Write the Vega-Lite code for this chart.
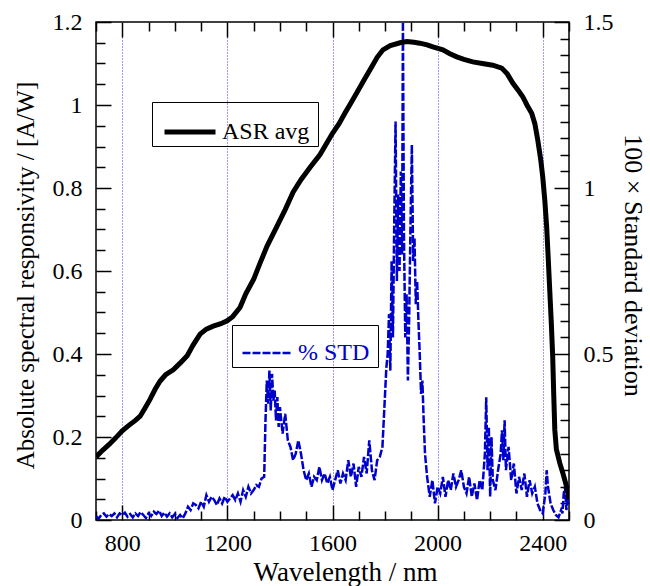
{
  "$schema": "https://vega.github.io/schema/vega-lite/v6.json",
  "width": 473,
  "height": 498,
  "autosize": {"type": "none"},
  "padding": {"left": 96, "top": 22, "right": 81, "bottom": 66},
  "background": "white",
  "config": {
    "font": "Liberation Serif",
    "view": {"stroke": "black", "strokeWidth": 1.5},
    "axis": {"labelFont": "Liberation Serif", "titleFont": "Liberation Serif", "titleFontWeight": "normal", "labelColor": "black", "titleColor": "black", "tickColor": "black", "labelOverlap": false, "domain": false}
  },
  "datasets": {
    "asr": [
      {"nm": 700, "asr": 0.152}, {"nm": 725, "asr": 0.168}, {"nm": 750, "asr": 0.182}, {"nm": 775, "asr": 0.198},
      {"nm": 800, "asr": 0.215}, {"nm": 825, "asr": 0.228}, {"nm": 850, "asr": 0.24}, {"nm": 868, "asr": 0.25},
      {"nm": 885, "asr": 0.268}, {"nm": 905, "asr": 0.29}, {"nm": 925, "asr": 0.315}, {"nm": 944, "asr": 0.335},
      {"nm": 965, "asr": 0.35}, {"nm": 994, "asr": 0.362}, {"nm": 1020, "asr": 0.378}, {"nm": 1047, "asr": 0.396},
      {"nm": 1070, "asr": 0.422}, {"nm": 1096, "asr": 0.448}, {"nm": 1120, "asr": 0.46}, {"nm": 1146, "asr": 0.467},
      {"nm": 1175, "asr": 0.473}, {"nm": 1199, "asr": 0.48}, {"nm": 1220, "asr": 0.49}, {"nm": 1248, "asr": 0.512},
      {"nm": 1270, "asr": 0.545}, {"nm": 1300, "asr": 0.58}, {"nm": 1325, "asr": 0.62}, {"nm": 1351, "asr": 0.66},
      {"nm": 1389, "asr": 0.708}, {"nm": 1420, "asr": 0.748}, {"nm": 1450, "asr": 0.79}, {"nm": 1480, "asr": 0.82},
      {"nm": 1515, "asr": 0.85}, {"nm": 1552, "asr": 0.88}, {"nm": 1575, "asr": 0.905}, {"nm": 1600, "asr": 0.932},
      {"nm": 1625, "asr": 0.955}, {"nm": 1647, "asr": 0.98}, {"nm": 1670, "asr": 1.005}, {"nm": 1693, "asr": 1.03},
      {"nm": 1720, "asr": 1.06}, {"nm": 1750, "asr": 1.093}, {"nm": 1770, "asr": 1.115}, {"nm": 1792, "asr": 1.133},
      {"nm": 1820, "asr": 1.143}, {"nm": 1857, "asr": 1.15}, {"nm": 1883, "asr": 1.153}, {"nm": 1910, "asr": 1.151},
      {"nm": 1932, "asr": 1.149}, {"nm": 1960, "asr": 1.145}, {"nm": 1982, "asr": 1.14}, {"nm": 2020, "asr": 1.133},
      {"nm": 2045, "asr": 1.124}, {"nm": 2073, "asr": 1.116}, {"nm": 2100, "asr": 1.11}, {"nm": 2134, "asr": 1.104},
      {"nm": 2170, "asr": 1.1}, {"nm": 2210, "asr": 1.096}, {"nm": 2244, "asr": 1.089}, {"nm": 2265, "asr": 1.075},
      {"nm": 2286, "asr": 1.053}, {"nm": 2305, "asr": 1.037}, {"nm": 2324, "asr": 1.02}, {"nm": 2340, "asr": 1.0},
      {"nm": 2358, "asr": 0.98}, {"nm": 2370, "asr": 0.955}, {"nm": 2381, "asr": 0.916}, {"nm": 2392, "asr": 0.87},
      {"nm": 2400, "asr": 0.827}, {"nm": 2408, "asr": 0.77}, {"nm": 2415, "asr": 0.706}, {"nm": 2421, "asr": 0.63},
      {"nm": 2427, "asr": 0.55}, {"nm": 2433, "asr": 0.47}, {"nm": 2438, "asr": 0.393}, {"nm": 2442, "asr": 0.3},
      {"nm": 2446, "asr": 0.217}, {"nm": 2452, "asr": 0.17}, {"nm": 2465, "asr": 0.137}, {"nm": 2478, "asr": 0.11},
      {"nm": 2491, "asr": 0.08}, {"nm": 2500, "asr": 0.05}
    ],
    "std": [
      {"nm": 700, "std": 0.012}, {"nm": 710, "std": 0.004}, {"nm": 720, "std": 0.015}, {"nm": 730, "std": 0.02},
      {"nm": 740, "std": 0.01}, {"nm": 750, "std": 0.018}, {"nm": 760, "std": 0.012}, {"nm": 770, "std": 0.02},
      {"nm": 780, "std": 0.008}, {"nm": 790, "std": 0.02}, {"nm": 800, "std": 0.015}, {"nm": 810, "std": 0.022},
      {"nm": 820, "std": 0.01}, {"nm": 830, "std": 0.018}, {"nm": 840, "std": 0.008}, {"nm": 850, "std": 0.02},
      {"nm": 860, "std": 0.012}, {"nm": 870, "std": 0.024}, {"nm": 880, "std": 0.015}, {"nm": 890, "std": 0.006},
      {"nm": 900, "std": 0.02}, {"nm": 910, "std": 0.012}, {"nm": 920, "std": 0.025}, {"nm": 930, "std": 0.018},
      {"nm": 940, "std": 0.028}, {"nm": 950, "std": 0.012}, {"nm": 960, "std": 0.022}, {"nm": 970, "std": 0.01},
      {"nm": 980, "std": 0.02}, {"nm": 990, "std": 0.008}, {"nm": 1000, "std": 0.018}, {"nm": 1010, "std": 0.006},
      {"nm": 1020, "std": 0.015}, {"nm": 1030, "std": 0.005}, {"nm": 1040, "std": 0.02}, {"nm": 1050, "std": 0.04},
      {"nm": 1060, "std": 0.03}, {"nm": 1070, "std": 0.05}, {"nm": 1080, "std": 0.045}, {"nm": 1090, "std": 0.035},
      {"nm": 1100, "std": 0.055}, {"nm": 1110, "std": 0.04}, {"nm": 1120, "std": 0.075}, {"nm": 1130, "std": 0.055},
      {"nm": 1140, "std": 0.07}, {"nm": 1150, "std": 0.06}, {"nm": 1160, "std": 0.045}, {"nm": 1170, "std": 0.065},
      {"nm": 1180, "std": 0.05}, {"nm": 1190, "std": 0.07}, {"nm": 1200, "std": 0.055}, {"nm": 1210, "std": 0.065},
      {"nm": 1220, "std": 0.075}, {"nm": 1230, "std": 0.06}, {"nm": 1240, "std": 0.08}, {"nm": 1250, "std": 0.055},
      {"nm": 1260, "std": 0.09}, {"nm": 1270, "std": 0.07}, {"nm": 1280, "std": 0.1}, {"nm": 1290, "std": 0.08},
      {"nm": 1300, "std": 0.09}, {"nm": 1310, "std": 0.105}, {"nm": 1320, "std": 0.1}, {"nm": 1330, "std": 0.125},
      {"nm": 1340, "std": 0.13}, {"nm": 1345, "std": 0.3}, {"nm": 1350, "std": 0.42}, {"nm": 1355, "std": 0.35},
      {"nm": 1360, "std": 0.45}, {"nm": 1365, "std": 0.33}, {"nm": 1370, "std": 0.44}, {"nm": 1375, "std": 0.36},
      {"nm": 1380, "std": 0.39}, {"nm": 1385, "std": 0.3}, {"nm": 1390, "std": 0.37}, {"nm": 1395, "std": 0.28},
      {"nm": 1400, "std": 0.34}, {"nm": 1410, "std": 0.26}, {"nm": 1420, "std": 0.32}, {"nm": 1430, "std": 0.24},
      {"nm": 1440, "std": 0.22}, {"nm": 1450, "std": 0.18}, {"nm": 1460, "std": 0.2}, {"nm": 1470, "std": 0.24},
      {"nm": 1480, "std": 0.2}, {"nm": 1490, "std": 0.15}, {"nm": 1500, "std": 0.12}, {"nm": 1510, "std": 0.14},
      {"nm": 1520, "std": 0.1}, {"nm": 1530, "std": 0.13}, {"nm": 1540, "std": 0.12}, {"nm": 1550, "std": 0.16},
      {"nm": 1560, "std": 0.12}, {"nm": 1570, "std": 0.14}, {"nm": 1580, "std": 0.11}, {"nm": 1590, "std": 0.13},
      {"nm": 1600, "std": 0.09}, {"nm": 1610, "std": 0.12}, {"nm": 1620, "std": 0.15}, {"nm": 1630, "std": 0.11},
      {"nm": 1640, "std": 0.14}, {"nm": 1650, "std": 0.12}, {"nm": 1660, "std": 0.18}, {"nm": 1670, "std": 0.13},
      {"nm": 1680, "std": 0.17}, {"nm": 1690, "std": 0.1}, {"nm": 1700, "std": 0.16}, {"nm": 1710, "std": 0.13},
      {"nm": 1720, "std": 0.19}, {"nm": 1730, "std": 0.14}, {"nm": 1740, "std": 0.24}, {"nm": 1750, "std": 0.15},
      {"nm": 1760, "std": 0.12}, {"nm": 1770, "std": 0.18}, {"nm": 1780, "std": 0.19}, {"nm": 1790, "std": 0.22},
      {"nm": 1795, "std": 0.3}, {"nm": 1800, "std": 0.38}, {"nm": 1805, "std": 0.46}, {"nm": 1810, "std": 0.5},
      {"nm": 1815, "std": 0.62}, {"nm": 1820, "std": 0.45}, {"nm": 1825, "std": 0.78}, {"nm": 1830, "std": 0.55},
      {"nm": 1835, "std": 0.9}, {"nm": 1840, "std": 1.2}, {"nm": 1845, "std": 0.72}, {"nm": 1850, "std": 0.98},
      {"nm": 1855, "std": 0.75}, {"nm": 1860, "std": 1.05}, {"nm": 1865, "std": 0.8}, {"nm": 1868, "std": 1.5},
      {"nm": 1872, "std": 0.85}, {"nm": 1877, "std": 0.55}, {"nm": 1882, "std": 0.68}, {"nm": 1887, "std": 0.42},
      {"nm": 1892, "std": 0.62}, {"nm": 1897, "std": 0.9}, {"nm": 1902, "std": 1.13}, {"nm": 1907, "std": 0.78},
      {"nm": 1912, "std": 0.85}, {"nm": 1917, "std": 0.65}, {"nm": 1922, "std": 0.72}, {"nm": 1927, "std": 0.6},
      {"nm": 1932, "std": 0.5}, {"nm": 1937, "std": 0.38}, {"nm": 1942, "std": 0.42}, {"nm": 1947, "std": 0.3},
      {"nm": 1952, "std": 0.2}, {"nm": 1960, "std": 0.13}, {"nm": 1970, "std": 0.07}, {"nm": 1980, "std": 0.12},
      {"nm": 1990, "std": 0.05}, {"nm": 2000, "std": 0.1}, {"nm": 2010, "std": 0.08}, {"nm": 2020, "std": 0.13},
      {"nm": 2030, "std": 0.07}, {"nm": 2040, "std": 0.12}, {"nm": 2050, "std": 0.09}, {"nm": 2060, "std": 0.14},
      {"nm": 2070, "std": 0.1}, {"nm": 2080, "std": 0.12}, {"nm": 2090, "std": 0.15}, {"nm": 2100, "std": 0.1},
      {"nm": 2110, "std": 0.08}, {"nm": 2120, "std": 0.13}, {"nm": 2130, "std": 0.07}, {"nm": 2140, "std": 0.11},
      {"nm": 2150, "std": 0.06}, {"nm": 2160, "std": 0.12}, {"nm": 2170, "std": 0.09}, {"nm": 2180, "std": 0.2},
      {"nm": 2185, "std": 0.37}, {"nm": 2190, "std": 0.15}, {"nm": 2195, "std": 0.28}, {"nm": 2200, "std": 0.07},
      {"nm": 2205, "std": 0.25}, {"nm": 2210, "std": 0.12}, {"nm": 2220, "std": 0.09}, {"nm": 2230, "std": 0.15},
      {"nm": 2240, "std": 0.2}, {"nm": 2245, "std": 0.27}, {"nm": 2250, "std": 0.18}, {"nm": 2255, "std": 0.3},
      {"nm": 2260, "std": 0.15}, {"nm": 2270, "std": 0.22}, {"nm": 2280, "std": 0.12}, {"nm": 2290, "std": 0.17},
      {"nm": 2300, "std": 0.08}, {"nm": 2310, "std": 0.13}, {"nm": 2320, "std": 0.09}, {"nm": 2330, "std": 0.14},
      {"nm": 2340, "std": 0.07}, {"nm": 2350, "std": 0.12}, {"nm": 2360, "std": 0.08}, {"nm": 2370, "std": 0.1},
      {"nm": 2380, "std": 0.05}, {"nm": 2390, "std": 0.03}, {"nm": 2400, "std": 0.02}, {"nm": 2410, "std": 0.08},
      {"nm": 2415, "std": 0.15}, {"nm": 2420, "std": 0.1}, {"nm": 2430, "std": 0.05}, {"nm": 2440, "std": 0.03},
      {"nm": 2450, "std": 0.015}, {"nm": 2460, "std": 0.008}, {"nm": 2470, "std": 0.03}, {"nm": 2475, "std": 0.02},
      {"nm": 2480, "std": 0.08}, {"nm": 2485, "std": 0.1}, {"nm": 2490, "std": 0.03}, {"nm": 2495, "std": 0.06},
      {"nm": 2500, "std": 0.05}
    ]
  },
  "layer": [
    {
      "data": {"name": "std"},
      "mark": {"type": "line", "color": "#0000cc", "strokeWidth": 2.5, "strokeDash": [8, 2], "clip": true},
      "encoding": {
        "x": {
          "field": "nm", "type": "quantitative",
          "scale": {"domain": [700, 2500], "nice": false, "zero": false},
          "axis": {
            "orient": "top", "title": null, "labels": false, "grid": false,
            "values": [700, 800, 900, 1000, 1100, 1200, 1300, 1400, 1500, 1600, 1700, 1800, 1900, 2000, 2100, 2200, 2300, 2400, 2500],
            "tickWidth": 1.5,
            "tickSize": {"condition": {"test": "datum.value % 400 == 0", "value": -15}, "value": -9}
          }
        },
        "y": {
          "field": "std", "type": "quantitative",
          "scale": {"domain": [0, 1.5], "nice": false},
          "axis": {
            "orient": "right", "grid": false,
            "title": "100 × Standard deviation",
            "titleFontSize": 26, "titlePadding": 6, "titleY": 243,
            "values": [0, 0.05, 0.1, 0.15, 0.2, 0.25, 0.3, 0.35, 0.4, 0.45, 0.5, 0.55, 0.6, 0.65, 0.7, 0.75, 0.8, 0.85, 0.9, 0.95, 1, 1.05, 1.1, 1.15, 1.2, 1.25, 1.3, 1.35, 1.4, 1.45, 1.5],
            "labelExpr": "abs(datum.value * 2 - round(datum.value * 2)) < 0.001 ? format(datum.value, '.1~f') : ''",
            "labelFontSize": 24, "labelPadding": 29,
            "tickWidth": 1.5,
            "tickSize": {"condition": {"test": "abs(datum.value * 2 - round(datum.value * 2)) < 0.001", "value": -15}, "value": -9}
          }
        },
        "color": {
          "datum": "% STD", "type": "nominal",
          "scale": {"range": ["#0000cc"]},
          "legend": {
            "orient": "none", "legendX": 136, "legendY": 303,
            "title": " ", "titleOrient": "right", "titleFontSize": 1, "titlePadding": 7,
            "strokeColor": "black", "padding": 2,
            "symbolType": "stroke", "symbolSize": 2401, "symbolStrokeWidth": 2.5, "symbolDash": [8, 2],
            "symbolStrokeColor": "#0000cc", "symbolOffset": 7,
            "labelFont": "Liberation Serif", "labelFontSize": 24, "labelColor": "#0000cc", "labelOffset": 5
          }
        }
      }
    },
    {
      "data": {"name": "asr"},
      "mark": {"type": "line", "color": "black", "strokeWidth": 5, "clip": true},
      "encoding": {
        "x": {
          "field": "nm", "type": "quantitative",
          "scale": {"domain": [700, 2500], "nice": false, "zero": false},
          "axis": {
            "orient": "bottom", "title": "Wavelength / nm",
            "titleFontSize": 27, "titlePadding": -2, "titleX": 249,
            "values": [700, 800, 900, 1000, 1100, 1200, 1300, 1400, 1500, 1600, 1700, 1800, 1900, 2000, 2100, 2200, 2300, 2400, 2500],
            "format": "d",
            "labelExpr": "datum.value % 400 == 0 ? datum.label : ''",
            "labelFontSize": 24, "labelPadding": 26,
            "tickWidth": 1.5,
            "tickSize": {"condition": {"test": "datum.value % 400 == 0", "value": -15}, "value": -9},
            "grid": true, "gridColor": "#3a3aff", "gridDash": [1, 2], "gridWidth": 1,
            "gridOpacity": {"condition": {"test": "datum.value % 400 == 0", "value": 1}, "value": 0}
          }
        },
        "y": {
          "field": "asr", "type": "quantitative",
          "scale": {"domain": [0, 1.2], "nice": false},
          "axis": {
            "orient": "left", "grid": false,
            "title": "Absolute spectral responsivity / [A/W]",
            "titleFontSize": 25, "titlePadding": 14, "titleY": 253,
            "values": [0, 0.05, 0.1, 0.15, 0.2, 0.25, 0.3, 0.35, 0.4, 0.45, 0.5, 0.55, 0.6, 0.65, 0.7, 0.75, 0.8, 0.85, 0.9, 0.95, 1, 1.05, 1.1, 1.15, 1.2],
            "labelExpr": "abs(datum.value * 5 - round(datum.value * 5)) < 0.001 ? format(datum.value, '.1~f') : ''",
            "labelFontSize": 24, "labelPadding": 29,
            "tickWidth": 1.5,
            "tickSize": {"condition": {"test": "abs(datum.value * 5 - round(datum.value * 5)) < 0.001", "value": -15}, "value": -9}
          }
        },
        "color": {
          "datum": "ASR avg", "type": "nominal",
          "scale": {"range": ["black"]},
          "legend": {
            "orient": "none", "legendX": 56, "legendY": 80,
            "title": " ", "titleOrient": "right", "titleFontSize": 1, "titlePadding": 7,
            "strokeColor": "black", "padding": 2,
            "symbolType": "stroke", "symbolSize": 2601, "symbolStrokeWidth": 5,
            "symbolStrokeColor": "black", "symbolOffset": 8,
            "labelFont": "Liberation Serif", "labelFontSize": 24, "labelColor": "black", "labelOffset": 4
          }
        }
      }
    }
  ],
  "resolve": {"scale": {"x": "independent", "y": "independent", "color": "independent"}, "axis": {"x": "independent", "y": "independent"}, "legend": {"color": "independent"}}
}
